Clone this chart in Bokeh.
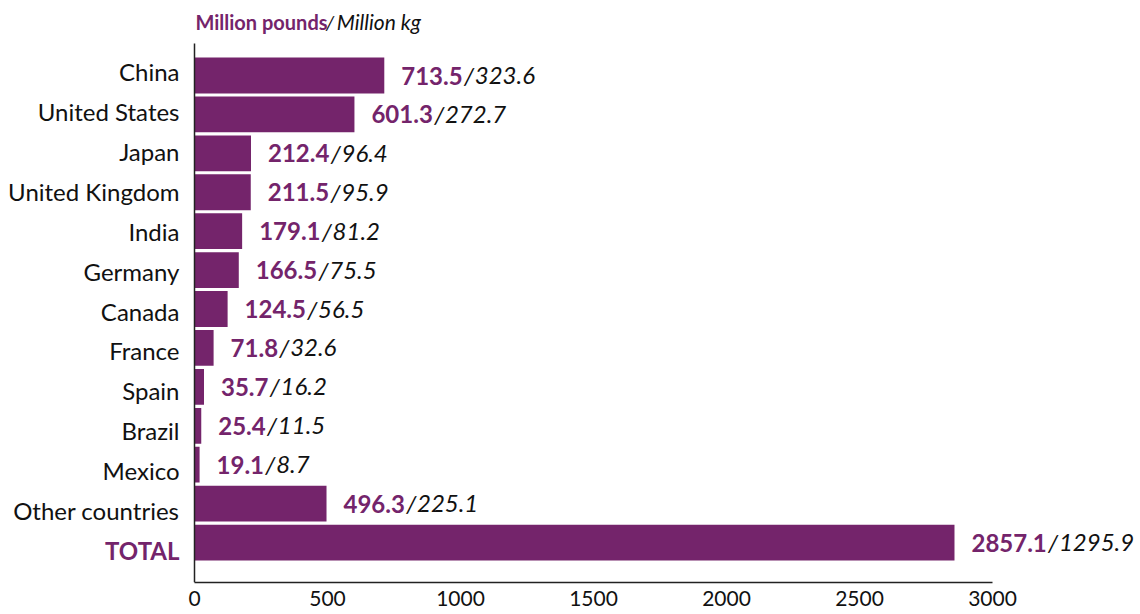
from bokeh.plotting import figure
from bokeh.models import ColumnDataSource, Range1d, FixedTicker, Label, LabelSet
from bokeh.core.properties import value
from bokeh.embed import file_html
from bokeh.resources import INLINE

countries = ["China", "United States", "Japan", "United Kingdom", "India", "Germany",
             "Canada", "France", "Spain", "Brazil", "Mexico", "Other countries", "TOTAL"]
pounds = [713.5, 601.3, 212.4, 211.5, 179.1, 166.5, 124.5, 71.8, 35.7, 25.4, 19.1, 496.3, 2857.1]
kg = [323.6, 272.7, 96.4, 95.9, 81.2, 75.5, 56.5, 32.6, 16.2, 11.5, 8.7, 225.1, 1295.9]
x_ticks = [0, 500, 1000, 1500, 2000, 2500, 3000]
title_bold = "Million pounds"
title_ital = "Million kg"

PURPLE = "#74246b"
INK = "#111111"
FONT = "Lato"
FS = 24

# approximate Lato advance widths (em)
W = {".": 0.25, "/": 0.42, " ": 0.19, "M": 0.92, "i": 0.24, "l": 0.24, "o": 0.56,
     "n": 0.56, "p": 0.56, "u": 0.56, "d": 0.56, "s": 0.42, "k": 0.50, "g": 0.51}


def adv(s, fs):
    return sum(0.58 if c.isdigit() else W.get(c, 0.5) for c in s) * fs


n = len(countries)
ys = list(range(n))
plab = [f"{v:.1f}" for v in pounds]
klab = [f"{v:.1f}" for v in kg]
GAP = 17
off1 = [GAP] * n
off2 = [GAP + adv(s, FS) + 1 for s in plab]
off3 = [o + 0.45 * FS for o in off2]
is_total = [c == "TOTAL" for c in countries]
name_dy = [4.0 - 1.0 * i for i in ys]   # category labels sit slightly off the bar centres

src = ColumnDataSource(dict(
    y=ys, p=pounds, zero=[0] * n, name=countries, name_dy=name_dy,
    name_style=["bold" if t else "normal" for t in is_total],
    name_color=[PURPLE if t else INK for t in is_total],
    plab=plab, klab=klab, slash=["/"] * n, off1=off1, off2=off2, off3=off3))

SCALE = 0.266          # px per unit
X0_PX = 194            # canvas x of value 0
PITCH = 38.92          # px per category
Y0_PX = 75             # canvas y of first category centre
FRAME_BOTTOM = 582
W_CANVAS, H_CANVAS = 1140, 614

x_range = Range1d(-X0_PX / SCALE, (W_CANVAS - X0_PX) / SCALE)
y_range = Range1d((FRAME_BOTTOM - Y0_PX) / PITCH, -Y0_PX / PITCH)
y_axis_top = -(Y0_PX - 43) / PITCH

p = figure(width=W_CANVAS, height=H_CANVAS, output_backend="svg", toolbar_location=None,
           x_range=x_range, y_range=y_range,
           min_border_left=0, min_border_right=0, min_border_top=0,
           min_border_bottom=H_CANVAS - FRAME_BOTTOM)
p.outline_line_color = None
p.xgrid.visible = False
p.ygrid.visible = False
p.background_fill_color = "white"
p.border_fill_color = "white"

p.hbar(y="y", right="p", left="zero", height=0.92, source=src, color=PURPLE, line_color=None)

common = dict(x="p", y="y", source=src, text_baseline="middle", text_font=value(FONT),
              text_font_size=f"{FS}px")
p.add_layout(LabelSet(text="plab", x_offset="off1", text_font_style="bold",
                      text_color=PURPLE, **common))
p.add_layout(LabelSet(text="slash", x_offset="off2", text_font_style="italic",
                      text_color=INK, **common))
p.add_layout(LabelSet(text="klab", x_offset="off3", text_font_style="italic",
                      text_color=INK, **common))

p.add_layout(LabelSet(x="zero", y="y", text="name", source=src, x_offset=-15,
                      y_offset="name_dy",
                      text_align="right", text_baseline="middle", text_font=value(FONT),
                      text_font_size=f"{FS}px", text_font_style="name_style",
                      text_color="name_color"))

xa = p.xaxis[0]
xa.ticker = FixedTicker(ticks=x_ticks)
xa.bounds = (x_ticks[0], x_ticks[-1])
xa.major_tick_out = 0
xa.major_tick_in = 0
xa.minor_tick_out = 0
xa.minor_tick_in = 0
xa.axis_line_color = "#222222"
xa.axis_line_width = 1.5
xa.major_label_text_font = FONT
xa.major_label_text_font_size = "21px"
xa.major_label_text_color = INK
xa.major_label_standoff = 8

ya = p.yaxis[0]
ya.ticker = FixedTicker(ticks=[])
ya.fixed_location = 0
ya.bounds = (y_axis_top, y_range.start)
ya.major_tick_out = 0
ya.major_tick_in = 0
ya.minor_tick_out = 0
ya.minor_tick_in = 0
ya.major_label_standoff = 0
ya.axis_line_color = "#222222"
ya.axis_line_width = 1.5

TFS = 20
ty = -(Y0_PX - 21) / PITCH
p.add_layout(Label(x=0, y=ty, text=title_bold, x_offset=1, text_baseline="middle",
                   text_font=FONT, text_font_size=f"{TFS}px", text_font_style="bold",
                   text_color=PURPLE))
tw = adv(title_bold, TFS)
p.add_layout(Label(x=0, y=ty, text="/", x_offset=3 + tw, text_baseline="middle",
                   text_font=FONT, text_font_size=f"{TFS}px", text_font_style="italic",
                   text_color=INK))
p.add_layout(Label(x=0, y=ty, text=title_ital, x_offset=3 + tw + 0.55 * TFS,
                   text_baseline="middle", text_font=FONT, text_font_size="21px",
                   text_font_style="italic", text_color=INK))

open("out.html", "w").write(file_html(p, INLINE))
